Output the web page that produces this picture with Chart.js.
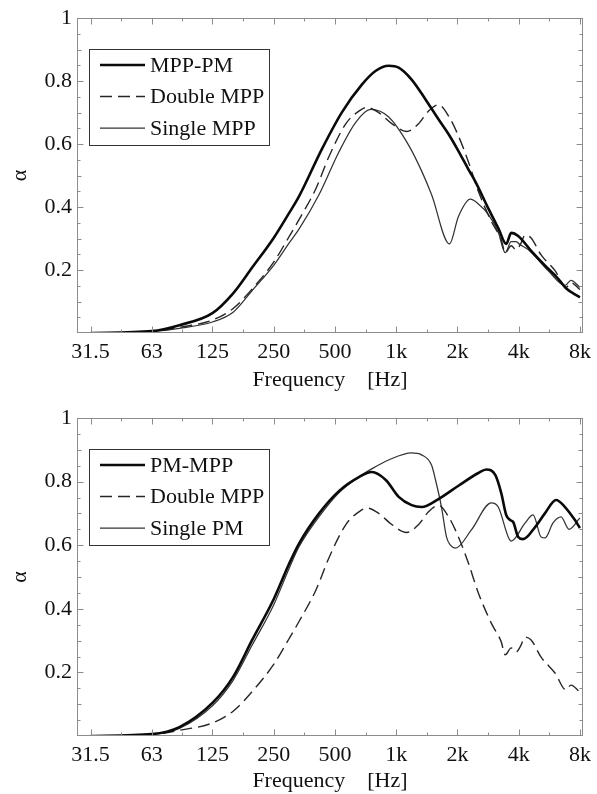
<!DOCTYPE html>
<html lang="fr">
<head>
<meta charset="utf-8">
<title>Coefficient d'absorption</title>
<script src="https://cdn.jsdelivr.net/npm/chart.js@4.4.1/dist/chart.umd.min.js"></script>
<style>
  body { margin: 0; background: #fff; }
  .bloc { position: relative; width: 597px; height: 397px; }
</style>
</head>
<body>
<div class="bloc"><canvas id="haut"></canvas></div>
<div class="bloc"><canvas id="bas"></canvas></div>
<script>
// Ticks des axes
const xTicks = [31.5, 63, 125, 250, 500, 1000, 2000, 4000, 8000]
const xTickLabels = ['31.5', '63', '125', '250', '500', '1k', '2k', '4k', '8k']
const yTicks = [0.2, 0.4, 0.6, 0.8, 1]

// Graphe du haut : MPP-PM
const freqMppPm = [31.5, 63, 86, 125, 158, 196, 250, 297, 333, 432, 541, 678, 794, 919, 1029, 1191, 1394, 1614, 1807, 2023, 2264, 2450, 2836, 3175, 3474, 3676, 3978, 4605, 5393, 6243, 6832, 8000]
const alphaMppPm = [0, 0.006, 0.025, 0.063, 0.126, 0.208, 0.302, 0.38, 0.434, 0.585, 0.701, 0.789, 0.833, 0.849, 0.843, 0.805, 0.742, 0.679, 0.632, 0.578, 0.52, 0.481, 0.396, 0.333, 0.283, 0.318, 0.308, 0.261, 0.214, 0.173, 0.142, 0.113]

// Graphe du haut : Single MPP
const freqSingleMpp = [31.5, 63, 86, 125, 158, 196, 250, 297, 333, 418, 523, 634, 750, 919, 1151, 1333, 1492, 1828, 2023, 2316, 2534, 2836, 3175, 3436, 3676, 3889, 4068, 4452, 5578, 6755, 7228, 8000]
const alphaSingleMpp = [0, 0.005, 0.015, 0.035, 0.066, 0.135, 0.215, 0.285, 0.33, 0.44, 0.575, 0.67, 0.71, 0.686, 0.597, 0.515, 0.44, 0.283, 0.37, 0.425, 0.41, 0.377, 0.32, 0.255, 0.29, 0.29, 0.28, 0.265, 0.198, 0.151, 0.167, 0.145]

// Double MPP : même courbe dans les deux graphes
const freqDoubleMpp = [31.5, 63, 86, 125, 158, 196, 250, 297, 333, 404, 467, 566, 656, 717, 821, 951, 1126, 1289, 1442, 1614, 1807, 2023, 2264, 2534, 2934, 3284, 3436, 3676, 3889, 4068, 4304, 4605, 5155, 6035, 6832, 7228, 8000]
const alphaDoubleMpp = [0, 0.005, 0.018, 0.041, 0.078, 0.14, 0.225, 0.305, 0.36, 0.46, 0.56, 0.665, 0.705, 0.717, 0.70, 0.665, 0.64, 0.665, 0.705, 0.725, 0.69, 0.626, 0.544, 0.45, 0.355, 0.296, 0.255, 0.277, 0.264, 0.28, 0.311, 0.302, 0.248, 0.198, 0.145, 0.16, 0.138]

// Graphe du bas : PM-MPP
const freqPmMpp = [31.5, 63, 86, 125, 158, 196, 250, 297, 333, 418, 523, 656, 758, 889, 1029, 1191, 1333, 1614, 2023, 2534, 2773, 3069, 3284, 3474, 3635, 3760, 3978, 4208, 4817, 5393, 6104, 6755, 7561, 8000]
const alphaPmMpp = [0, 0.006, 0.028, 0.104, 0.186, 0.302, 0.43, 0.54, 0.605, 0.70, 0.77, 0.814, 0.83, 0.805, 0.752, 0.726, 0.72, 0.745, 0.787, 0.827, 0.838, 0.821, 0.764, 0.695, 0.679, 0.673, 0.626, 0.619, 0.657, 0.701, 0.742, 0.72, 0.679, 0.654]

// Graphe du bas : Single PM
const freqSinglePm = [31.5, 63, 86, 125, 158, 196, 250, 297, 333, 418, 523, 656, 758, 919, 1191, 1333, 1492, 1561, 1670, 1767, 1848, 1956, 2342, 2934, 3175, 3554, 3676, 4304, 4710, 5155, 5393, 5901, 6457, 7067, 8000]
const alphaSinglePm = [0, 0.005, 0.024, 0.095, 0.175, 0.286, 0.412, 0.525, 0.595, 0.69, 0.765, 0.815, 0.84, 0.868, 0.89, 0.884, 0.852, 0.805, 0.72, 0.626, 0.60, 0.591, 0.648, 0.733, 0.72, 0.626, 0.613, 0.67, 0.695, 0.626, 0.623, 0.67, 0.689, 0.65, 0.686]

const police = { family: '"Liberation Serif", "DejaVu Serif", serif', size: 22 }
const couleurTexte = '#111'

function points(freq, alpha) {
  return freq.map((f, i) => ({ x: f, y: alpha[i] }))
}

// Styles des trois types de traits
const styleGras = { borderColor: '#0a0a0a', borderWidth: 2.6 }
const styleTirets = { borderColor: '#262626', borderWidth: 1.4, borderDash: [12, 6] }
const styleFin = { borderColor: '#333', borderWidth: 1.25 }

// Cadre gris + petites graduations vers l'intérieur
const cadre = {
  id: 'cadre',
  afterDraw(chart) {
    const { ctx, chartArea: a, scales: { x, y } } = chart
    const l = Math.round(a.left) + 0.5, r = Math.round(a.right) - 0.5
    const t = Math.round(a.top) + 0.5, b = Math.round(a.bottom) - 0.5
    ctx.save()
    ctx.strokeStyle = '#8c8c8c'
    ctx.lineWidth = 1
    ctx.strokeRect(l, t, r - l, b - t)
    ctx.beginPath()
    xTicks.forEach(v => {
      [v, v * Math.SQRT2].forEach((f, k) => {
        if (f > x.max) return
        const px = Math.round(x.getPixelForValue(f)) + 0.5
        const len = k === 0 ? 6 : 3
        ctx.moveTo(px, b); ctx.lineTo(px, b - len)
        ctx.moveTo(px, t); ctx.lineTo(px, t + len)
      })
    })
    for (let k = 1; k < 20; k++) {
      const py = Math.round(y.getPixelForValue(k * 0.05)) + 0.5
      const len = k % 4 === 0 ? 6 : (k % 2 === 0 ? 4 : 3)
      ctx.moveTo(l, py); ctx.lineTo(l + len, py)
      ctx.moveTo(r, py); ctx.lineTo(r - len, py)
    }
    ctx.stroke()
    ctx.restore()
  }
}

// Légende encadrée en haut à gauche
const legende = {
  id: 'legende',
  afterDraw(chart) {
    const { ctx, chartArea: a } = chart
    const bx = Math.round(a.left) + 12, by = Math.round(a.top) + 31
    ctx.save()
    ctx.strokeStyle = '#333'
    ctx.lineWidth = 1
    ctx.strokeRect(bx + 0.5, by + 0.5, 180, 96)
    chart.data.datasets.forEach((ds, i) => {
      const yy = by + 16 + i * 31.5
      ctx.setLineDash(ds.borderDash || [])
      ctx.strokeStyle = ds.borderColor
      ctx.lineWidth = ds.borderWidth
      ctx.beginPath()
      ctx.moveTo(bx + 11, yy)
      ctx.lineTo(bx + 56, yy)
      ctx.stroke()
      ctx.setLineDash([])
      ctx.fillStyle = couleurTexte
      ctx.font = police.size + 'px ' + police.family
      ctx.textBaseline = 'middle'
      ctx.fillText(ds.label, bx + 61, yy + 1)
    })
    ctx.restore()
  }
}

function graphe(id, datasets, padHaut, hauteurX, padTitre) {
  return new Chart(document.getElementById(id), {
    type: 'line',
    data: { datasets },
    options: {
      responsive: true,
      maintainAspectRatio: false,
      animation: false,
      layout: { padding: { top: padHaut, right: 12, left: 0, bottom: 0 } },
      plugins: { legend: { display: false }, tooltip: { enabled: false } },
      elements: {
        point: { radius: 0 },
        line: { cubicInterpolationMode: 'monotone', fill: false }
      },
      scales: {
        x: {
          type: 'logarithmic',
          min: 27,
          max: 8276,
          grid: { display: false, drawTicks: false },
          border: { display: false },
          afterBuildTicks: s => { s.ticks = xTicks.map(v => ({ value: v })) },
          afterFit: s => { s.height = hauteurX },
          ticks: {
            callback: (v, i) => xTickLabels[i],
            color: couleurTexte, font: police, padding: 6,
            maxRotation: 0, autoSkip: false
          },
          title: {
            display: true, text: 'Frequency    [Hz]', color: couleurTexte, font: police,
            padding: { top: 0, bottom: padTitre }
          }
        },
        y: {
          min: 0,
          max: 1,
          grid: { display: false, drawTicks: false },
          border: { display: false },
          afterBuildTicks: s => { s.ticks = yTicks.map(v => ({ value: v })) },
          afterFit: s => { s.width = 77 },
          ticks: {
            callback: v => String(Math.round(v * 10) / 10),
            color: couleurTexte, font: police, padding: 5
          },
          title: {
            display: true, text: 'α', color: couleurTexte, font: police,
            padding: { top: 7, bottom: 0 }
          }
        }
      }
    },
    plugins: [cadre, legende]
  })
}

graphe('haut', [
  { label: 'MPP-PM', data: points(freqMppPm, alphaMppPm), ...styleGras },
  { label: 'Double MPP', data: points(freqDoubleMpp, alphaDoubleMpp), ...styleTirets },
  { label: 'Single MPP', data: points(freqSingleMpp, alphaSingleMpp), ...styleFin }
], 15, 64, 4)

graphe('bas', [
  { label: 'PM-MPP', data: points(freqPmMpp, alphaPmMpp), ...styleGras },
  { label: 'Double MPP', data: points(freqDoubleMpp, alphaDoubleMpp), ...styleTirets },
  { label: 'Single PM', data: points(freqSinglePm, alphaSinglePm), ...styleFin }
], 21, 58, 0)
</script>
</body>
</html>
